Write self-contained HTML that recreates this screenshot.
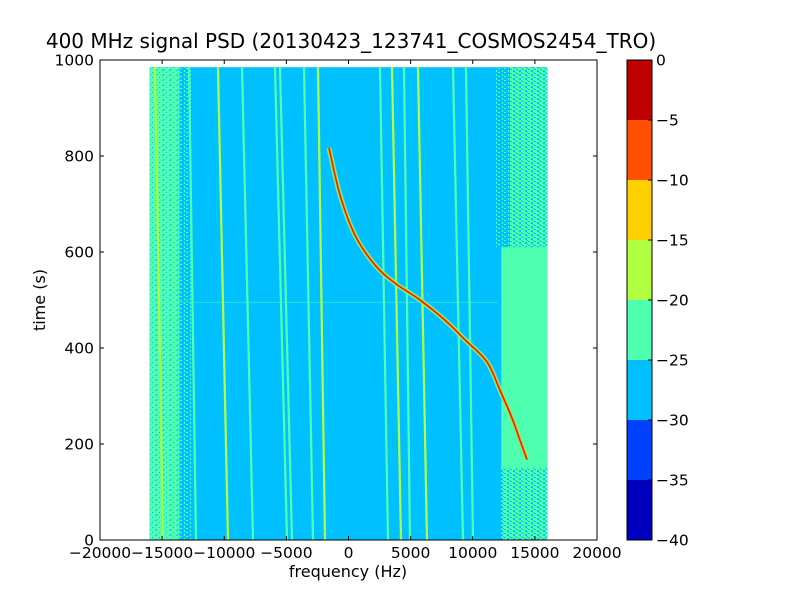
<!DOCTYPE html>
<html><head><meta charset="utf-8"><style>
body{margin:0;background:#fff;}
svg text{font-family:"DejaVu Sans","Liberation Sans",sans-serif;}
</style></head><body>
<svg id="chart" width="800" height="600" xmlns="http://www.w3.org/2000/svg">
<defs>
<pattern id="mixA" width="7" height="5" patternUnits="userSpaceOnUse">
<rect width="7" height="5" fill="#4effb0"/><rect x="1" y="0" width="2" height="1" fill="#20c8f0"/><rect x="5" y="2" width="1" height="1" fill="#00c0ff"/><rect x="2" y="4" width="2" height="1" fill="#30d0e0"/>
</pattern>
<pattern id="mixB" width="6" height="4" patternUnits="userSpaceOnUse">
<rect width="6" height="4" fill="#00c0ff"/><rect x="0" y="0" width="2" height="1" fill="#4effb0"/><rect x="4" y="2" width="1" height="2" fill="#4effb0"/>
</pattern>
<pattern id="mixC" width="6" height="4" patternUnits="userSpaceOnUse">
<rect width="6" height="4" fill="#4effb0"/><rect x="0" y="1" width="2" height="1" fill="#00c0ff"/><rect x="3" y="2" width="2" height="2" fill="#00c0ff"/><rect x="5" y="0" width="1" height="1" fill="#00c0ff"/>
</pattern>
</defs>
<text x="351" y="48" text-anchor="middle" font-size="20">400 MHz signal PSD (20130423_123741_COSMOS2454_TRO)</text>
<g id="plot"></g>
<rect x="100" y="60" width="497" height="480" fill="none" stroke="#000" stroke-width="1"/>
<g id="axes"></g>
<text x="348" y="577" text-anchor="middle" font-size="16">frequency (Hz)</text>
<text x="45" y="300" text-anchor="middle" font-size="16" transform="rotate(-90 45 300)">time (s)</text>
<g id="cbar"></g>
</svg>
<script>
const lineFreqTop=[-15573,-12837,-10503,-8571,-5915,-5513,-3581,-2455,2535,3501,4467,5593,8410,9456];
const lineFreqBottom=[-14929,-12273,-9698,-7686,-4950,-4547,-2857,-1891,3179,4225,4950,6318,9215,10020];
const lineLevel=[-17,-22,-17,-22,-22,-22,-22,-17,-22,-17,-22,-17,-22,-22];
const traceFreq=[-1569,-684,523,2133,3742,5754,7766,9376,11146,12193,13158,13802,14365];
const traceTime=[817,719,635,573,535,500,458,417,371,312,254,208,167];
const xTicks=[-20000,-15000,-10000,-5000,0,5000,10000,15000,20000];
const yTicks=[0,200,400,600,800,1000];
const cbLevels=[-40,-35,-30,-25,-20,-15,-10,-5];
const cbColors=['#0000c0','#0040ff','#00c0ff','#4effb0','#b0ff40','#ffd000','#ff5000','#c00000'];
const cbTicks=[0,-5,-10,-15,-20,-25,-30,-35,-40];
const NS='http://www.w3.org/2000/svg';
const X=f=>348.5+(f)*497/40000;
const Y=t=>540-t*0.48;
const CB=v=>540-(v+40)*12;
function mk(tag,attrs,parent){const e=document.createElementNS(NS,tag);for(const k in attrs)e.setAttribute(k,attrs[k]);parent.appendChild(e);return e;}
function color(v){let i=Math.floor((v+40)/5);i=Math.max(0,Math.min(7,i));return cbColors[i];}
const plot=document.getElementById('plot');
let e;
function band(f1,t1,f2,t2,fill,name){
 e=mk('rect',{x:X(f1),y:Y(t2),width:X(f2)-X(f1),height:Y(t1)-Y(t2),fill:fill},plot);
 
 
}
band(-16000,0,16000,985,'#00c0ff','psd-background');
band(-16000,0,-13600,985,'url(#mixA)','left-noise-band');
band(-13600,0,-12600,985,'url(#mixB)','left-noise-band-edge');
band(11800,610,16000,985,'url(#mixB)','right-noise-band-top-inner');
band(13000,610,16000,985,'url(#mixC)','right-noise-band-top');
band(12300,150,16000,610,'#4effb0','right-noise-band');
band(12300,0,16000,150,'url(#mixC)','right-noise-band-bottom');
e=mk('line',{x1:X(-16000),x2:X(12000),y1:Y(495),y2:Y(495),stroke:'#4effb0','stroke-width':1,opacity:0.5},plot);


for(let i=0;i<lineFreqTop.length;i++){
 e=mk('line',{x1:X(lineFreqTop[i]),y1:Y(985),x2:X(lineFreqBottom[i]),y2:Y(0),stroke:color(lineLevel[i]),'stroke-width':2.2},plot);
 
 
}
const P=traceFreq.map((f,i)=>[X(f),Y(traceTime[i])]);
let d='M'+P[0][0].toFixed(1)+','+P[0][1].toFixed(1);
for(let i=0;i<P.length-1;i++){
 const p0=P[Math.max(0,i-1)],p1=P[i],p2=P[i+1],p3=P[Math.min(P.length-1,i+2)];
 const c1=[p1[0]+(p2[0]-p0[0])/6,p1[1]+(p2[1]-p0[1])/6],c2=[p2[0]-(p3[0]-p1[0])/6,p2[1]-(p3[1]-p1[1])/6];
 d+='C'+c1[0].toFixed(1)+','+c1[1].toFixed(1)+' '+c2[0].toFixed(1)+','+c2[1].toFixed(1)+' '+p2[0].toFixed(1)+','+p2[1].toFixed(1);
}
e=mk('path',{d:d,fill:'none',stroke:'#4effb0','stroke-width':5,'stroke-linejoin':'round'},plot);


e=mk('path',{d:d,fill:'none',stroke:'#ffb000','stroke-width':3,'stroke-linejoin':'round'},plot);


e=mk('path',{d:d,fill:'none',stroke:'#e02000','stroke-width':1.5,'stroke-linejoin':'round'},plot);


const ax=document.getElementById('axes');
xTicks.forEach(t=>{const x=X(t);
 mk('line',{x1:x,x2:x,y1:540,y2:536,stroke:'#000'},ax);mk('line',{x1:x,x2:x,y1:60,y2:64,stroke:'#000'},ax);
 e=mk('text',{x:x,y:558,'text-anchor':'middle','font-size':15.5},ax);e.textContent=t<0?'\u2212'+(-t):String(t);
 
 });
yTicks.forEach(t=>{const y=Y(t);
 mk('line',{x1:100,x2:104,y1:y,y2:y,stroke:'#000'},ax);mk('line',{x1:597,x2:593,y1:y,y2:y,stroke:'#000'},ax);
 e=mk('text',{x:94,y:y+5.5,'text-anchor':'end','font-size':15.5},ax);e.textContent=String(t);
 
 });
const cb=document.getElementById('cbar');
cbLevels.forEach((v,i)=>{e=mk('rect',{x:627,y:CB(v+5),width:25,height:CB(v)-CB(v+5),fill:cbColors[i]},cb);
 
 });
e=mk('rect',{x:627,y:60,width:25,height:480,fill:'none',stroke:'#000'},cb);


cbTicks.forEach(v=>{const y=CB(v);mk('line',{x1:648,x2:652,y1:y,y2:y,stroke:'#000'},cb);
 e=mk('text',{x:656,y:y+5.5,'font-size':15.5},cb);e.textContent=v<0?'\u2212'+(-v):String(v);
 
 });
</script>
</body></html>
